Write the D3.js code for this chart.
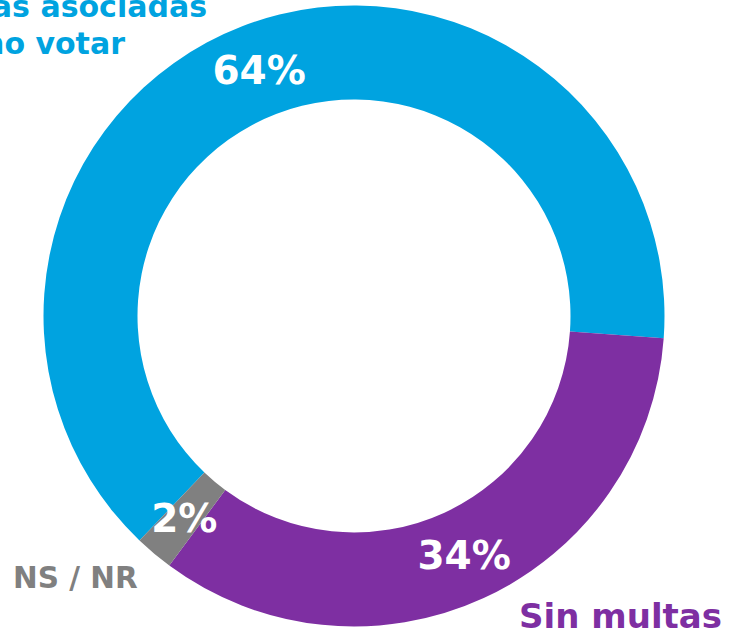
<!DOCTYPE html>
<html>
<head>
<meta charset="utf-8">
<script src="https://cdn.jsdelivr.net/npm/d3@7"></script>
<style>
  body { margin: 0; background: #fff; }
  svg { display: block; }
</style>
</head>
<body>
<svg></svg>
<script>
// data
let categories = ["Con multas asociadas al no votar", "Sin multas", "NS / NR"];
let shares = [64, 34, 2];
let pctLabels = ["64%", "34%", "2%"];
let colors = ["#00a3e0", "#7e2fa2", "#808080"];

let w = 731;
let h = 634;
let cx = 354;
let cy = 316;
let outerR = 310.5;
let innerR = 216.5;
let font = "'DejaVu Sans', sans-serif";

let svg = d3.select('svg')
  .attr('width', w)
  .attr('height', h);

let startDeg = -136.3; // blue wedge ends just below 3 o'clock
let pie = d3.pie()
  .sort(null)
  .value(d => d)
  .startAngle(startDeg * Math.PI / 180)
  .endAngle(startDeg * Math.PI / 180 + 2 * Math.PI);

let arc = d3.arc()
  .innerRadius(innerR)
  .outerRadius(outerR);

let slices = pie(shares);

let g = svg.append('g')
  .attr('transform', 'translate(' + cx + ',' + cy + ')');

g.selectAll('path')
  .data(slices)
  .enter()
  .append('path')
  .attr('d', arc)
  .attr('fill', (d, i) => colors[i]);

// percent labels sit at the ring centroid
g.selectAll('text.pct')
  .data(slices)
  .enter()
  .append('text')
  .attr('class', 'pct')
  .attr('x', d => arc.centroid(d)[0])
  .attr('y', d => arc.centroid(d)[1] + 14)
  .attr('text-anchor', 'middle')
  .style('font-family', font)
  .style('font-weight', 'bold')
  .style('font-size', '39px')
  .attr('fill', '#fff')
  .text((d, i) => pctLabels[i]);

// category labels (first one runs off the left edge, as in the source)
let blueLabel = svg.append('text')
  .attr('text-anchor', 'end')
  .style('font-family', font)
  .style('font-weight', 'bold')
  .style('font-size', '30px')
  .attr('fill', colors[0]);
blueLabel.append('tspan').attr('x', 207).attr('y', 17).text('Con multas asociadas');
blueLabel.append('tspan').attr('x', 125).attr('y', 54).text('al no votar');

svg.append('text')
  .attr('x', 722)
  .attr('y', 628)
  .attr('text-anchor', 'end')
  .style('font-family', font)
  .style('font-weight', 'bold')
  .style('font-size', '34px')
  .attr('fill', colors[1])
  .text(categories[1]);

svg.append('text')
  .attr('x', 13)
  .attr('y', 588)
  .style('font-family', font)
  .style('font-weight', 'bold')
  .style('font-size', '29.5px')
  .attr('fill', colors[2])
  .text(categories[2]);
</script>
</body>
</html>
